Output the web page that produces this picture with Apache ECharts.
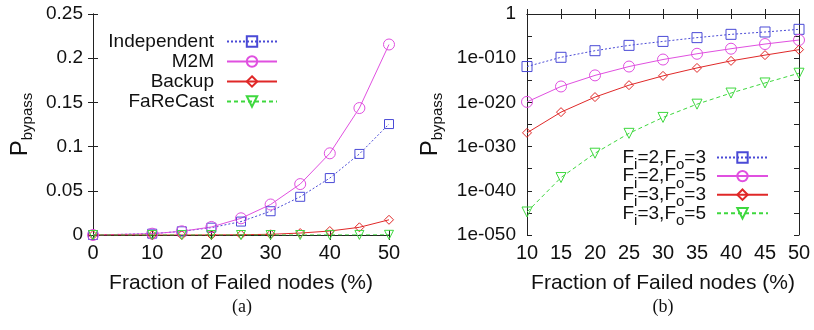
<!DOCTYPE html>
<html>
<head>
<meta charset="utf-8">
<script src="https://cdn.jsdelivr.net/npm/echarts@6/dist/echarts.min.js"></script>
<style>
  html, body { margin: 0; padding: 0; background: #fff; }
  #chart { width: 814px; height: 330px; }
</style>
</head>
<body>
<div id="chart"></div>
<script>
// (a) linear plot
let xA = [0, 10, 15, 20, 25, 30, 35, 40, 45, 50];
let independent = [0, 0.0015, 0.0042, 0.0083, 0.0152, 0.0269, 0.0432, 0.0644, 0.0917, 0.1255];
let m2m = [0, 0.0015, 0.0042, 0.0091, 0.0189, 0.0345, 0.0576, 0.0924, 0.1436, 0.2155];
let backup = [0, 0, 0, 0.0001, 0.0003, 0.0008, 0.0022, 0.0045, 0.0087, 0.0172];
let fareCast = [0, 0, 0, 0, 0, 0, 0, 0.0001, 0.0001, 0.0002];

// (b) log plot
let xB = [10, 15, 20, 25, 30, 35, 40, 45, 50];
let fi2fo3 = [1.3e-12, 1.6e-10, 5e-9, 8e-8, 6.3e-7, 4.5e-6, 2.5e-5, 8.5e-5, 3.4e-4];
let fi2fo5 = [1.3e-20, 4e-17, 1.3e-14, 1.3e-12, 5e-11, 1e-9, 1.4e-8, 1.6e-7, 1.3e-6];
let fi3fo3 = [1.3e-27, 6.3e-23, 1.6e-19, 8e-17, 1e-14, 6.3e-13, 2.5e-11, 5e-10, 8.5e-9];
let fi3fo5 = [1.6e-45, 1e-37, 3.2e-32, 1e-27, 4e-24, 4e-21, 1.3e-18, 2.5e-16, 4e-14];

let namesA = ['Independent', 'M2M', 'Backup', 'FaReCast'];
let namesB = ['Fi=2,Fo=3', 'Fi=2,Fo=5', 'Fi=3,Fo=3', 'Fi=3,Fo=5'];

let font = 'Liberation Sans, Arial, sans-serif';
let blue = '#4a4ad6', pink = '#e050e0', red = '#e02828', green = '#3ed83e';

let pairs = (xs, ys) => xs.map((x, i) => [x, ys[i]]);
// log axis of v6 chokes on 1e-50, so plot decades on a value axis
let logPairs = (xs, ys) => xs.map((x, i) => [x, Math.log10(ys[i])]);

let chart = echarts.init(document.getElementById('chart'));

let axisBase = {
    axisLine: { show: true, lineStyle: { color: '#222', width: 1 } },
    axisTick: { show: true, inside: true, length: 5, lineStyle: { color: '#222' } },
    splitLine: { show: false },
    axisLabel: { color: '#111', fontSize: 20, fontFamily: font }
};
let mirror = (o) => Object.assign({}, axisBase, o, { axisLabel: { show: false } });

let logLabel = v => {
    let e = Math.round(v);
    if (e === 0) return '1';
    return '1e-0' + String(-e).padStart(2, '0');
};

let sym = (name, shape, size, color, line, rotate, gi, data) => ({
    name: name,
    type: 'line',
    xAxisIndex: gi * 2,
    yAxisIndex: gi * 2,
    data: data,
    symbol: shape,
    symbolSize: size,
    symbolRotate: rotate || 0,
    showAllSymbol: true,
    itemStyle: { color: 'rgba(255,255,255,0)', borderColor: color, borderWidth: 1 },
    lineStyle: { color: color, width: 1, type: line }
});

let pName = {
    p: { fontSize: 24, lineHeight: 30, fontFamily: font, color: '#111' },
    s: { fontSize: 15, lineHeight: 14, verticalAlign: 'bottom', fontFamily: font, color: '#111' }
};
let minor = { show: true, splitNumber: 2, length: 5, lineStyle: { color: '#222' } };

let option = {
    animation: false,
    backgroundColor: '#fff',
    grid: [
        { left: 93, right: 425, top: 14, bottom: 95, outerBoundsMode: 'none' },
        { left: 527, right: 15, top: 14, bottom: 95, outerBoundsMode: 'none' }
    ],
    xAxis: [
        Object.assign({}, axisBase, {
            type: 'value', gridIndex: 0, min: 0, max: 50, interval: 10,
            name: 'Fraction of Failed nodes (%)', nameLocation: 'middle', nameGap: 38,
            nameTextStyle: { fontSize: 21, fontFamily: font, color: '#111' },
            axisLabel: Object.assign({}, axisBase.axisLabel, { margin: 8 })
        }),
        mirror({ type: 'value', gridIndex: 0, position: 'top', min: 0, max: 50, interval: 10 }),
        Object.assign({}, axisBase, {
            type: 'value', gridIndex: 1, min: 10, max: 50, interval: 5,
            name: 'Fraction of Failed nodes (%)', nameLocation: 'middle', nameGap: 38,
            nameTextStyle: { fontSize: 21, fontFamily: font, color: '#111' },
            axisLabel: Object.assign({}, axisBase.axisLabel, { margin: 8 })
        }),
        mirror({ type: 'value', gridIndex: 1, position: 'top', min: 10, max: 50, interval: 5 })
    ],
    yAxis: [
        Object.assign({}, axisBase, {
            type: 'value', gridIndex: 0, min: 0, max: 0.25, interval: 0.05,
            name: '{p|P}{s|bypass}', nameLocation: 'middle', nameRotate: 90, nameGap: 58,
            nameTextStyle: { rich: pName },
            axisLabel: Object.assign({}, axisBase.axisLabel, { fontSize: 19, margin: 10 })
        }),
        mirror({ type: 'value', gridIndex: 0, position: 'right', min: 0, max: 0.25, interval: 0.05 }),
        Object.assign({}, axisBase, {
            type: 'value', gridIndex: 1, min: -50, max: 0, interval: 10,
            name: '{p|P}{s|bypass}', nameLocation: 'middle', nameRotate: 90, nameGap: 82,
            nameTextStyle: { rich: pName },
            minorTick: minor,
            axisLabel: Object.assign({}, axisBase.axisLabel, { fontSize: 19, margin: 11, formatter: logLabel })
        }),
        mirror({ type: 'value', gridIndex: 1, position: 'right', min: -50, max: 0, interval: 10, minorTick: minor })
    ],
    legend: [
        {
            data: namesA, orient: 'vertical', align: 'right',
            right: 531, top: 27, itemWidth: 50, itemHeight: 13, itemGap: 1,
            textStyle: { fontSize: 19, fontFamily: font, color: '#111', lineHeight: 16, padding: [0, 8, 0, 0] }
        },
        {
            data: namesB, orient: 'vertical', align: 'right',
            right: 40, top: 143, itemWidth: 51, itemHeight: 13, itemGap: -5.9,
            formatter: n => {
                let m = n.match(/Fi=(\d),Fo=(\d)/);
                return '{a|F}{s|i}{a|=' + m[1] + ',F}{s|o}{a|=' + m[2] + '}';
            },
            textStyle: {
                padding: [0, 6, 0, 0],
                rich: {
                    a: { fontSize: 19, lineHeight: 30, fontFamily: font, color: '#111' },
                    s: { fontSize: 15, lineHeight: 14, verticalAlign: 'bottom', fontFamily: font, color: '#111' }
                }
            }
        }
    ],
    graphic: [
        { type: 'text', x: 242, y: 307, style: { text: '(a)', font: '18px "Liberation Serif", "Times New Roman", serif', fill: '#111', textAlign: 'center', textVerticalAlign: 'middle' } },
        { type: 'text', x: 663, y: 307, style: { text: '(b)', font: '18px "Liberation Serif", "Times New Roman", serif', fill: '#111', textAlign: 'center', textVerticalAlign: 'middle' } }
    ],
    series: [
        sym(namesA[0], 'rect', 9, blue, [2, 2], 0, 0, pairs(xA, independent)),
        sym(namesA[1], 'circle', 11, pink, 'solid', 0, 0, pairs(xA, m2m)),
        sym(namesA[2], 'diamond', 9, red, 'solid', 0, 0, pairs(xA, backup)),
        sym(namesA[3], 'triangle', 9, green, [4, 3], 180, 0, pairs(xA, fareCast)),
        sym(namesB[0], 'rect', 10, blue, [2, 2], 0, 1, logPairs(xB, fi2fo3)),
        sym(namesB[1], 'circle', 11, pink, 'solid', 0, 1, logPairs(xB, fi2fo5)),
        sym(namesB[2], 'diamond', 9, red, 'solid', 0, 1, logPairs(xB, fi3fo3)),
        sym(namesB[3], 'triangle', 10, green, [4, 3], 180, 1, logPairs(xB, fi3fo5))
    ]
};
chart.setOption(option);
</script>
</body>
</html>
